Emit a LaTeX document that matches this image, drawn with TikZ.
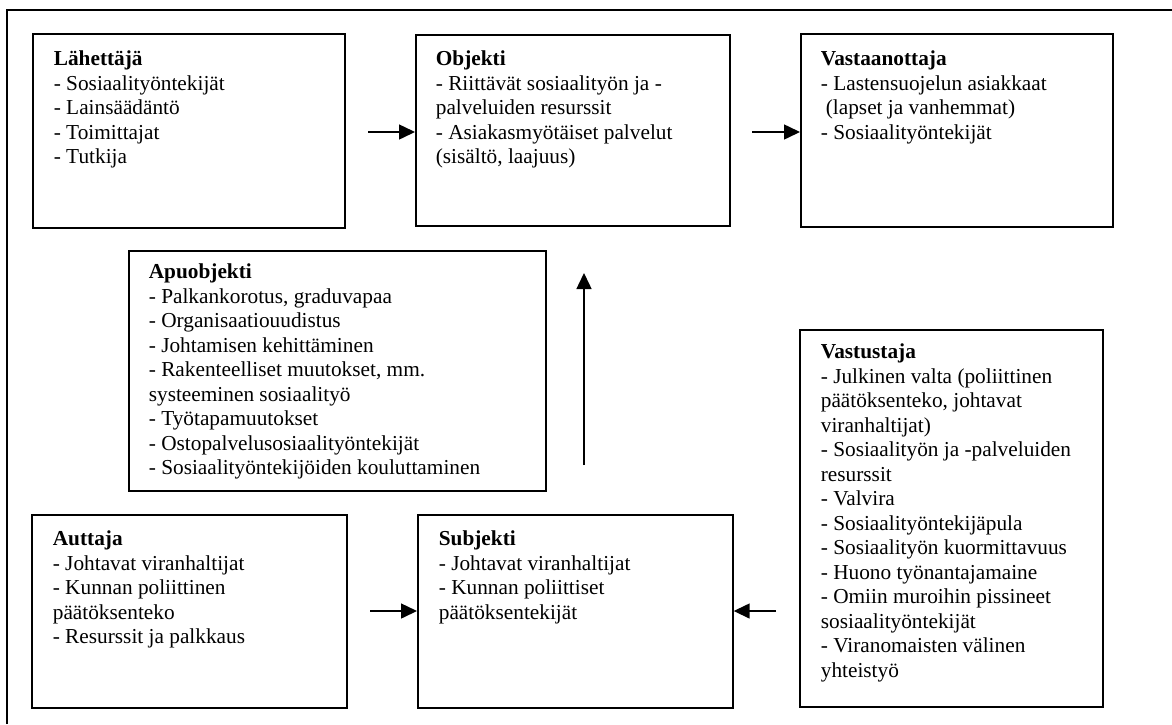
\documentclass[tikz,border=0pt]{standalone}
\usepackage{fontspec}
\setmainfont{Liberation Serif}
\usetikzlibrary{arrows.meta}
\tikzset{
  box/.style={draw, line width=1.7pt, inner sep=0pt, anchor=north west},
  conn/.style={line width=1.5pt, -{Triangle[length=16pt,width=15pt]}},
  frame/.style={line width=1.7pt},
}
% #1 left inset, #2 text width, #3 height, #4 first baseline, #5 content
\newcommand{\bxbody}[5]{\hspace*{#1}\parbox[t][#3][t]{#2}{\fontsize{21.3pt}{24.5pt}\selectfont\raggedright\rule{0pt}{#4}#5}}
\begin{document}
\begin{tikzpicture}[x=1pt,y=-1pt]
\useasboundingbox (0,0) rectangle (1172,724);
\draw[frame] (7,724) -- (7,10) -- (1172,10);

\node[box] (lah) at (32,33) {\bxbody{21pt}{291pt}{194pt}{32pt}{\textbf{Lähettäjä}\\- Sosiaalityöntekijät\\- Lainsäädäntö\\- Toimittajat\\- Tutkija}};
\node[box] (obj) at (415,34) {\bxbody{20pt}{294pt}{191pt}{31pt}{\textbf{Objekti}\\- Riittävät sosiaalityön ja -\\palveluiden resurssit\\- Asiakasmyötäiset palvelut\\(sisältö, laajuus)}};
\node[box] (vas) at (800,33) {\bxbody{20pt}{292pt}{193pt}{32pt}{\textbf{Vastaanottaja}\\- Lastensuojelun asiakkaat\\\hspace*{5pt}(lapset ja vanhemmat)\\- Sosiaalityöntekijät}};
\node[box] (apu) at (128,250) {\bxbody{20pt}{397pt}{240pt}{28pt}{\textbf{Apuobjekti}\\- Palkankorotus, graduvapaa\\- Organisaatiouudistus\\- Johtamisen kehittäminen\\- Rakenteelliset muutokset, mm.\\systeeminen sosiaalityö\\- Työtapamuutokset\\- Ostopalvelusosiaalityöntekijät\\- Sosiaalityöntekijöiden kouluttaminen}};
\node[box] (vst) at (799,329) {\bxbody{21pt}{282pt}{377pt}{29pt}{\textbf{Vastustaja}\\- Julkinen valta (poliittinen\\päätöksenteko, johtavat\\viranhaltijat)\\- Sosiaalityön ja -palveluiden\\resurssit\\- Valvira\\- Sosiaalityöntekijäpula\\- Sosiaalityön kuormittavuus\\- Huono työnantajamaine\\- Omiin muroihin pissineet\\sosiaalityöntekijät\\- Viranomaisten välinen\\yhteistyö}};
\node[box] (aut) at (31,514) {\bxbody{21pt}{294pt}{193pt}{31pt}{\textbf{Auttaja}\\- Johtavat viranhaltijat\\- Kunnan poliittinen\\päätöksenteko\\- Resurssit ja palkkaus}};
\node[box] (sub) at (417,514) {\bxbody{21pt}{294pt}{193pt}{31pt}{\textbf{Subjekti}\\- Johtavat viranhaltijat\\- Kunnan poliittiset\\päätöksentekijät}};

\coordinate (c1) at (368,132);
\coordinate (c2) at (752,132);
\coordinate (c3) at (370,611);
\coordinate (c4) at (776,611);
\coordinate (c5s) at (584,465);
\coordinate (c5e) at (584,273);

\draw[conn] (c1) -- (c1 -| obj.west);
\draw[conn] (c2) -- (c2 -| vas.west);
\draw[conn] (c3) -- (c3 -| sub.west);
\draw[conn] (c4) -- (c4 -| sub.east);
\draw[conn] (c5s) -- (c5e);
\end{tikzpicture}
\end{document}
